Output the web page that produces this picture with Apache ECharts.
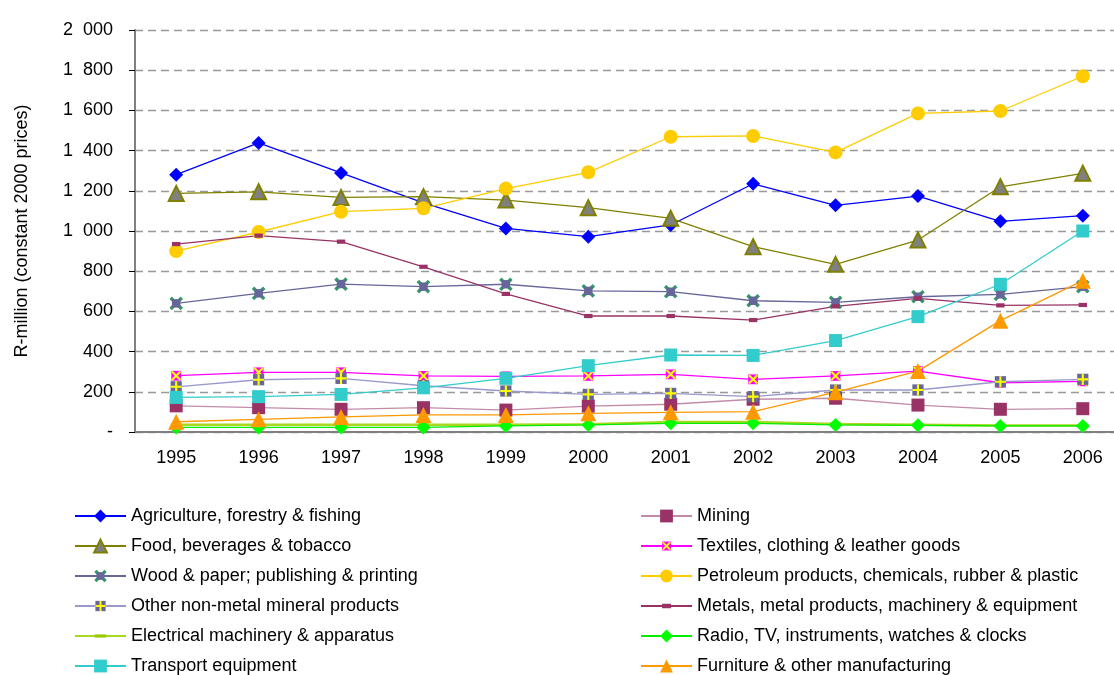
<!DOCTYPE html>
<html>
<head>
<meta charset="utf-8">
<script src="https://cdn.jsdelivr.net/npm/echarts@6/dist/echarts.min.js"></script>
<style>
  html, body { margin: 0; padding: 0; background: #fff; overflow: hidden; }
  #main { width: 1124px; height: 675px; }
</style>
</head>
<body>
<div id="main"></div>
<script>
var years = ['1995', '1996', '1997', '1998', '1999', '2000', '2001', '2002', '2003', '2004', '2005', '2006'];

var agriculture = [1280, 1438, 1289, 1140, 1013, 972, 1030, 1235, 1128, 1174, 1048, 1076];
var mining = [130, 121, 113, 121, 109, 129, 138, 163, 168, 134, 113, 116];
var food = [1187, 1195, 1167, 1171, 1154, 1116, 1063, 922, 834, 955, 1220, 1287];
var textiles = [280, 297, 297, 279, 277, 279, 287, 262, 279, 303, 245, 252];
var wood = [640, 690, 736, 723, 735, 702, 698, 653, 645, 673, 685, 723];
var petroleum = [900, 995, 1096, 1113, 1211, 1292, 1469, 1473, 1391, 1585, 1597, 1770];
var nonMetal = [225, 260, 267, 230, 204, 187, 192, 176, 209, 209, 250, 262];
var metals = [935, 977, 947, 822, 687, 577, 577, 557, 625, 665, 630, 632];
var electrical = [36, 36, 36, 36, 36, 38, 50, 50, 40, 36, 32, 32];
var radio = [23, 23, 23, 23, 30, 35, 43, 43, 35, 33, 30, 30];
var transport = [172, 176, 187, 220, 267, 330, 383, 381, 455, 574, 735, 1000];
var furniture = [51, 63, 75, 85, 85, 93, 98, 101, 198, 303, 554, 753];

var yTicks = ['-', '200', '400', '600', '800', '1\u2007000', '1\u2007200', '1\u2007400',
    '1\u2007600', '1\u2007800', '2\u2007000'];

// legend: left column then right column, top to bottom
var leftNames = ['Agriculture, forestry & fishing', 'Food, beverages & tobacco',
    'Wood & paper; publishing & printing', 'Other non-metal mineral products',
    'Electrical machinery & apparatus', 'Transport equipment'];
var rightNames = ['Mining', 'Textiles, clothing & leather goods',
    'Petroleum products, chemicals, rubber & plastic',
    'Metals, metal products, machinery & equipment',
    'Radio, TV, instruments, watches & clocks', 'Furniture & other manufacturing'];

function svgIcon(body) {
    return 'image://data:image/svg+xml;charset=utf-8,' + encodeURIComponent(
        '<svg xmlns="http://www.w3.org/2000/svg" width="20" height="20" viewBox="0 0 20 20">' + body + '</svg>');
}
var textileIcon = svgIcon('<rect x="3" y="3" width="14" height="14" fill="#FF00FF"/>' +
    '<path d="M4 4L16 16M16 4L4 16" stroke="#FFFF00" stroke-width="3"/>');
var nonMetalIcon = svgIcon('<rect x="2" y="2" width="16" height="16" fill="#666699"/>' +
    '<path d="M10 2V18M2 10H18" stroke="#FFFF00" stroke-width="3"/>');
var woodIcon = svgIcon('<path d="M2 2L18 18M18 2L2 18" stroke="#339966" stroke-width="5"/>' +
    '<rect x="4" y="4" width="12" height="12" fill="#666699"/>');
var metalsIcon = svgIcon('<rect x="3" y="6.5" width="14" height="7" fill="#993366"/>');
var electricalIcon = svgIcon('<rect x="1" y="7.5" width="18" height="5" fill="#99CC00"/>');

function line(name, data, color, lineColor, symbol, size, extra) {
    var s = {
        name: name, type: 'line', data: data,
        symbol: symbol, symbolSize: size,
        lineStyle: {color: lineColor, width: 1.3},
        itemStyle: {color: color},
        emphasis: {disabled: true}
    };
    if (extra) { for (var k in extra) { s[k] = extra[k]; } }
    return s;
}

var series = [
    line('Agriculture, forestry & fishing', agriculture, '#0000FF', '#0000FF', 'diamond', 14),
    line('Mining', mining, '#993366', '#C28CA8', 'rect', 13),
    line('Food, beverages & tobacco', food, '#808080', '#808000', 'triangle', 15,
        {itemStyle: {color: '#808080', borderColor: '#808000', borderWidth: 2}}),
    line('Textiles, clothing & leather goods', textiles, '#FF00FF', '#FF00FF', textileIcon, 14),
    line('Wood & paper; publishing & printing', wood, '#666699', '#666699', woodIcon, 14),
    line('Petroleum products, chemicals, rubber & plastic', petroleum, '#FFCC00', '#FFCC00', 'circle', 14),
    line('Other non-metal mineral products', nonMetal, '#666699', '#9999CC', nonMetalIcon, 14),
    line('Metals, metal products, machinery & equipment', metals, '#993366', '#993366', metalsIcon, 12),
    line('Electrical machinery & apparatus', electrical, '#99CC00', '#BBDD44', electricalIcon, 12,
        {lineStyle: {color: '#A8D820', width: 2.5}}),
    line('Radio, TV, instruments, watches & clocks', radio, '#00FF00', '#00EE00', 'diamond', 14),
    line('Transport equipment', transport, '#33CCCC', '#33CCCC', 'rect', 13),
    line('Furniture & other manufacturing', furniture, '#FF9900', '#FF9900', 'triangle', 16)
];

var font = 'Liberation Sans, Arial, sans-serif';
var legends = [];
leftNames.forEach(function (n, i) {
    legends.push({left: 74, top: 507 + i * 30, name: n});
});
rightNames.forEach(function (n, i) {
    legends.push({left: 640, top: 507 + i * 30, name: n});
});
legends = legends.map(function (l) {
    return {
        left: l.left, top: l.top, padding: 0, itemWidth: 51, itemHeight: 16,
        textStyle: {fontFamily: font, fontSize: 18, color: '#000'},
        data: [l.name]
    };
});

var chart = echarts.init(document.getElementById('main'), null, {renderer: 'canvas'});
chart.setOption({
    backgroundColor: '#fff',
    animation: false,
    textStyle: {fontFamily: font},
    grid: {left: 135, right: 0, top: 30, bottom: 243},
    legend: legends,
    xAxis: {
        type: 'category', data: years, boundaryGap: true,
        axisLine: {lineStyle: {color: '#808080', width: 2}},
        axisTick: {length: 6, lineStyle: {color: '#000'}},
        axisLabel: {color: '#000', fontSize: 18, margin: 17}
    },
    yAxis: {
        type: 'value', min: 0, max: 2000, interval: 200,
        name: 'R-million (constant 2000 prices)', nameLocation: 'middle', nameGap: 104,
        nameRotate: 90, nameTextStyle: {color: '#000', fontSize: 18},
        axisLine: {show: true, lineStyle: {color: '#808080', width: 2}},
        axisTick: {show: true, length: 6, lineStyle: {color: '#000'}},
        axisLabel: {
            color: '#000', fontSize: 18, margin: 22,
            formatter: function (v) { return yTicks[Math.round(v / 200)]; }
        },
        splitLine: {lineStyle: {color: '#999', type: [8, 5], width: 1.3}}
    },
    series: series
});
</script>
</body>
</html>
